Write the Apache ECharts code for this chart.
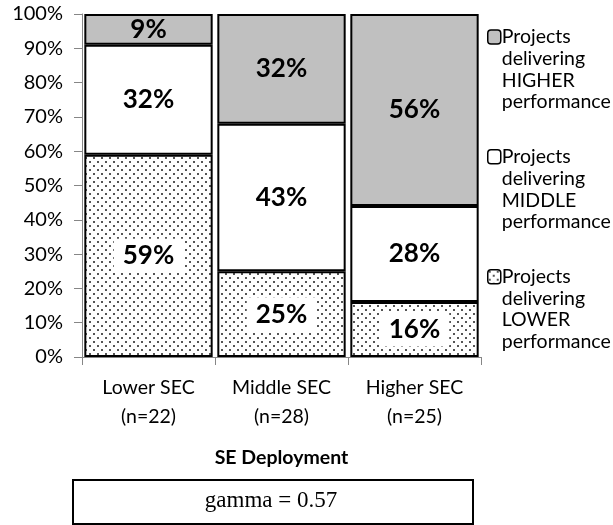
<!DOCTYPE html>
<html>
<head>
<meta charset="utf-8">
<script src="https://cdn.jsdelivr.net/npm/echarts@6/dist/echarts.min.js"></script>
<style>
  html, body { margin: 0; padding: 0; background: #fff; }
  #chart { width: 613px; height: 525px; }
</style>
</head>
<body>
<div id="chart"></div>
<script>
// data
var categories = ['Lower SEC\n(n=22)', 'Middle SEC\n(n=28)', 'Higher SEC\n(n=25)'];
var lowerPerf = [59, 25, 16];
var middlePerf = [32, 43, 28];
var higherPerf = [9, 32, 56];
var seriesNames = [
  'Projects\ndelivering\nLOWER\nperformance',
  'Projects\ndelivering\nMIDDLE\nperformance',
  'Projects\ndelivering\nHIGHER\nperformance'
];

var font = 'Lato';

// dotted fill like the excel pattern
function dotPattern() {
  var c = document.createElement('canvas');
  c.width = 8;
  c.height = 8;
  var ctx = c.getContext('2d');
  ctx.fillStyle = '#fff';
  ctx.fillRect(0, 0, 8, 8);
  ctx.fillStyle = '#555';
  ctx.fillRect(1, 1, 2, 2);
  ctx.fillRect(5, 5, 2, 2);
  return c;
}

var chart = echarts.init(document.getElementById('chart'));

var labelBase = {
  show: true,
  position: 'inside',
  color: '#000',
  fontFamily: font,
  fontWeight: 'bold',
  fontSize: 26,
  formatter: '{c}%'
};

var option = {
  animation: false,
  backgroundColor: '#fff',
  grid: { left: 82, right: 132, top: 14, bottom: 168 },
  legend: {
    orient: 'vertical',
    left: 482,
    top: -44,
    itemWidth: 13,
    itemHeight: 14,
    itemGap: -32,
    selectedMode: false,
    data: [seriesNames[2], seriesNames[1], seriesNames[0]],
    // pad with empty lines so the icon sits next to the first line
    formatter: function (name) { return '\n\n\n' + name; },
    itemStyle: { borderColor: '#000', borderWidth: 1.5 },
    textStyle: {
      fontFamily: font,
      fontSize: 19.5,
      lineHeight: 21.7,
      color: '#000',
      padding: [0, 0, 0, -4]
    }
  },
  xAxis: {
    type: 'category',
    data: categories,
    name: 'SE Deployment',
    nameLocation: 'middle',
    nameGap: 91,
    nameTextStyle: { fontFamily: font, fontSize: 19.5, fontWeight: 'bold', color: '#000' },
    axisLine: { lineStyle: { color: '#868686', width: 1 } },
    axisTick: { show: true, length: 8, lineStyle: { color: '#868686' } },
    axisLabel: { fontFamily: font, fontSize: 19.5, color: '#000', lineHeight: 29, margin: 16 }
  },
  yAxis: {
    type: 'value',
    min: 0,
    max: 100,
    interval: 10,
    splitLine: { show: false },
    axisLine: { show: true, lineStyle: { color: '#868686', width: 1 } },
    axisTick: { show: true, length: 8, lineStyle: { color: '#868686' } },
    axisLabel: { fontFamily: font, fontSize: 20, color: '#000', margin: 19, formatter: '{value}%' }
  },
  series: [
    {
      name: seriesNames[0],
      type: 'bar',
      stack: 'all',
      barCategoryGap: '3.5%',
      data: lowerPerf,
      itemStyle: { color: { image: dotPattern(), repeat: 'repeat' }, borderColor: '#000', borderWidth: 2 },
      label: Object.assign({}, labelBase, { backgroundColor: '#fff', padding: [4, 9] })
    },
    {
      name: seriesNames[1],
      type: 'bar',
      stack: 'all',
      barCategoryGap: '3.5%',
      data: middlePerf,
      itemStyle: { color: '#fff', borderColor: '#000', borderWidth: 2 },
      label: labelBase
    },
    {
      name: seriesNames[2],
      type: 'bar',
      stack: 'all',
      barCategoryGap: '3.5%',
      data: higherPerf,
      itemStyle: { color: '#c0c0c0', borderColor: '#000', borderWidth: 2 },
      label: labelBase
    }
  ],
  graphic: [
    {
      type: 'rect',
      left: 72,
      top: 479,
      shape: { width: 400, height: 44 },
      style: { fill: '#fff', stroke: '#000', lineWidth: 2 }
    },
    {
      type: 'text',
      x: 271,
      y: 501,
      style: {
        text: 'gamma = 0.57',
        font: '23px "Liberation Serif"',
        fill: '#000',
        align: 'center',
        verticalAlign: 'middle'
      }
    }
  ]
};

chart.setOption(option);
</script>
</body>
</html>
